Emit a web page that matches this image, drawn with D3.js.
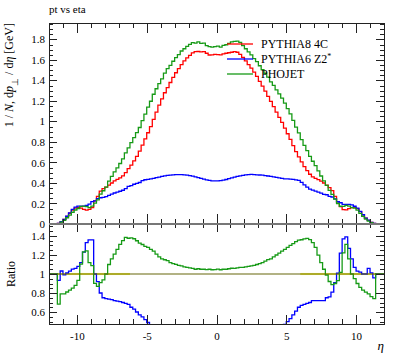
<!DOCTYPE html>
<html>
<head>
<meta charset="utf-8">
<script src="https://cdn.jsdelivr.net/npm/d3@7"></script>
<style>
  body { margin: 0; background: #fff; }
  svg { display: block; }
  text { font-family: "Liberation Serif", "Times New Roman", serif; fill: #000; }
</style>
</head>
<body>
<div id="chart"></div>
<script>
// bins of 0.2 in eta, from -12 to 12 (120 bins)
const binEdges = d3.range(121).map(i => +(-12 + i * 0.2).toFixed(1));

// PYTHIA8 4C (reference of the ratio)
const pythia8 = [
  0, 0, 0, 0.006, 0.022, 0.045, 0.075, 0.105, 0.135, 0.155,
  0.162, 0.155, 0.142, 0.136, 0.142, 0.160, 0.225, 0.270, 0.320, 0.345,
  0.360, 0.380, 0.400, 0.420, 0.435, 0.450, 0.470, 0.500, 0.540, 0.575,
  0.615, 0.660, 0.710, 0.770, 0.830, 0.890, 0.950, 1.020, 1.090, 1.160,
  1.220, 1.280, 1.330, 1.380, 1.430, 1.475, 1.515, 1.555, 1.590, 1.620,
  1.645, 1.668, 1.680, 1.682, 1.678, 1.680, 1.665, 1.648, 1.650, 1.655,
  1.652, 1.650, 1.658, 1.665, 1.670, 1.675, 1.680, 1.675, 1.655, 1.625,
  1.590, 1.555, 1.520, 1.480, 1.440, 1.390, 1.345, 1.295, 1.245, 1.195,
  1.145, 1.090, 1.040, 0.990, 0.935, 0.880, 0.825, 0.765, 0.705, 0.655,
  0.605, 0.560, 0.520, 0.485, 0.460, 0.445, 0.432, 0.418, 0.400, 0.380,
  0.355, 0.325, 0.270, 0.215, 0.170, 0.140, 0.138, 0.150, 0.160, 0.162,
  0.150, 0.120, 0.090, 0.058, 0.035, 0.016, 0.005, 0, 0, 0
];

// PYTHIA6 Z2*
const pythia6 = [
  0, 0, 0, 0.0056, 0.0227, 0.0446, 0.0758, 0.1082, 0.1418, 0.1643,
  0.1750, 0.1736, 0.1747, 0.1809, 0.1931, 0.2176, 0.2250, 0.2484, 0.2560, 0.2588,
  0.2664, 0.2793, 0.2920, 0.3024, 0.3110, 0.3195, 0.3290, 0.3450, 0.3672, 0.3738,
  0.3875, 0.3960, 0.4047, 0.4235, 0.4316, 0.436, 0.440, 0.445, 0.452, 0.458,
  0.465, 0.470, 0.474, 0.476, 0.479, 0.482, 0.482, 0.481, 0.479, 0.476,
  0.472, 0.466, 0.460, 0.453, 0.445, 0.437, 0.430, 0.425, 0.421, 0.420,
  0.420, 0.423, 0.428, 0.434, 0.442, 0.450, 0.458, 0.465, 0.470, 0.475,
  0.479, 0.481, 0.483, 0.482, 0.480, 0.478, 0.476, 0.472, 0.468, 0.464,
  0.460, 0.455, 0.450, 0.445, 0.440, 0.440, 0.437, 0.436, 0.430, 0.4258,
  0.4054, 0.3808, 0.3588, 0.3395, 0.3312, 0.3204, 0.3110, 0.3010, 0.2880, 0.2850,
  0.2698, 0.2633, 0.2457, 0.2172, 0.2074, 0.1918, 0.1918, 0.1905, 0.1856, 0.1733,
  0.1545, 0.1224, 0.0900, 0.0580, 0.0371, 0.0162, 0.0048, 0, 0, 0
];

// PHOJET
const phojet = [
  0, 0, 0, 0.0041, 0.0174, 0.0356, 0.0608, 0.0872, 0.1148, 0.1364,
  0.151, 0.171, 0.175, 0.169, 0.159, 0.174, 0.203, 0.235, 0.291, 0.324,
  0.360, 0.418, 0.464, 0.508, 0.548, 0.590, 0.635, 0.693, 0.743, 0.794,
  0.843, 0.891, 0.941, 1.009, 1.071, 1.139, 1.197, 1.265, 1.319, 1.369,
  1.415, 1.472, 1.516, 1.546, 1.587, 1.623, 1.651, 1.687, 1.709, 1.733,
  1.752, 1.768, 1.764, 1.775, 1.762, 1.764, 1.740, 1.730, 1.724, 1.730,
  1.735, 1.724, 1.741, 1.748, 1.762, 1.776, 1.781, 1.784, 1.771, 1.739,
  1.709, 1.679, 1.649, 1.613, 1.584, 1.543, 1.506, 1.470, 1.432, 1.386,
  1.351, 1.308, 1.269, 1.228, 1.178, 1.126, 1.073, 1.010, 0.945, 0.888,
  0.823, 0.767, 0.715, 0.660, 0.612, 0.570, 0.518, 0.468, 0.420, 0.376,
  0.327, 0.289, 0.243, 0.200, 0.173, 0.171, 0.181, 0.174, 0.160, 0.154,
  0.135, 0.103, 0.0747, 0.047, 0.0277, 0.0122, 0.0037, 0, 0, 0
];

const seriesNames = ["PYTHIA8 4C", "PYTHIA6 Z2*", "PHOJET"];
const seriesColors = ["#ff0000", "#0000ff", "#169a16"];

const xMajor = [-10, -5, 0, 5, 10];
const xMinor = d3.range(-12, 13, 1);
const yMajor = [0, 0.2, 0.4, 0.6, 0.8, 1, 1.2, 1.4, 1.6, 1.8];
const yMinor = d3.range(0, 1.96, 0.05);
const ratioMajor = [0.6, 0.8, 1, 1.2, 1.4];
const ratioMinor = d3.range(0.5, 1.51, 0.05);
// eta ranges where the yellow band of the reference shows
const refBand = [[-11.4, -6.2], [6.0, 11.4]];

const width = 397, height = 358;
const pLeft = 49, pRight = 384, pTop = 23, pMid = 224, pBottom = 324;

const svg = d3.select("#chart").append("svg")
  .attr("width", width).attr("height", height);

const x = d3.scaleLinear().domain([-12, 12]).range([pLeft, pRight]);
const y = d3.scaleLinear().domain([0, 1.96]).range([pMid, pTop]);
const yr = d3.scaleLinear().domain([0.474, 1.526]).range([pBottom, pMid]);

const defs = svg.append("defs");
defs.append("clipPath").attr("id", "clip-main")
  .append("rect").attr("x", pLeft).attr("y", pTop).attr("width", pRight - pLeft).attr("height", pMid - pTop);
defs.append("clipPath").attr("id", "clip-ratio")
  .append("rect").attr("x", pLeft).attr("y", pMid).attr("width", pRight - pLeft).attr("height", pBottom - pMid);

const stepPts = vals => {
  const pts = vals.map((v, i) => [binEdges[i], v]);
  pts.push([binEdges[vals.length], vals[vals.length - 1]]);
  return pts;
};

const lineMain = d3.line().x(d => x(d[0])).y(d => y(d[1])).curve(d3.curveStepAfter);
const lineRatio = d3.line().x(d => x(d[0])).y(d => yr(d[1])).curve(d3.curveStepAfter);

const allSeries = [pythia8, pythia6, phojet];

// main histograms
const gMain = svg.append("g").attr("clip-path", "url(#clip-main)");
allSeries.forEach((vals, k) => {
  gMain.append("path")
    .attr("d", lineMain(stepPts(vals)))
    .attr("fill", "none")
    .attr("stroke", seriesColors[k])
    .attr("stroke-width", 1.3);
});

// ratio panel
const gRatio = svg.append("g").attr("clip-path", "url(#clip-ratio)");
refBand.forEach(b => {
  gRatio.append("rect")
    .attr("x", x(b[0])).attr("width", x(b[1]) - x(b[0]))
    .attr("y", yr(1.011)).attr("height", yr(0.989) - yr(1.011))
    .attr("fill", "#f4f048");
});
[pythia6, phojet].forEach((vals, k) => {
  const ratio = vals.map((v, i) => pythia8[i] > 0 ? v / pythia8[i] : 1);
  gRatio.append("path")
    .attr("d", lineRatio(stepPts(ratio)))
    .attr("fill", "none")
    .attr("stroke", seriesColors[k + 1])
    .attr("stroke-width", 1.3);
});
gRatio.append("line")
  .attr("x1", pLeft).attr("x2", pRight)
  .attr("y1", yr(1)).attr("y2", yr(1))
  .attr("stroke", "#66660a").attr("stroke-width", 1.2);

// axes
const fmtX = d => d < 0 ? "-" + Math.abs(d) : String(d);
const fmtY = d3.format("~g");

const addAxis = (axis, tx, ty, withLabels) => {
  const g = svg.append("g").attr("transform", `translate(${tx},${ty})`).call(axis);
  g.select(".domain").remove();
  g.selectAll(".tick line").attr("stroke", "#222").attr("shape-rendering", "crispEdges");
  g.selectAll(".tick text").style("font-size", "11px").style("font-family", '"Liberation Serif", serif');
  if (!withLabels) g.selectAll(".tick text").remove();
  return g;
};

// main panel ticks
addAxis(d3.axisLeft(y).tickValues(yMajor).tickSize(-8).tickPadding(4).tickFormat(fmtY), pLeft, 0, true);
addAxis(d3.axisLeft(y).tickValues(yMinor).tickSize(-4).tickFormat(""), pLeft, 0, false);
addAxis(d3.axisRight(y).tickValues(yMajor).tickSize(-8).tickFormat(""), pRight, 0, false);
addAxis(d3.axisRight(y).tickValues(yMinor).tickSize(-4).tickFormat(""), pRight, 0, false);
addAxis(d3.axisTop(x).tickValues(xMajor).tickSize(-10).tickFormat(""), 0, pTop, false);
addAxis(d3.axisTop(x).tickValues(xMinor).tickSize(-5).tickFormat(""), 0, pTop, false);
addAxis(d3.axisBottom(x).tickValues(xMajor).tickSize(-10).tickFormat(""), 0, pMid, false);
addAxis(d3.axisBottom(x).tickValues(xMinor).tickSize(-5).tickFormat(""), 0, pMid, false);

// ratio panel ticks
addAxis(d3.axisLeft(yr).tickValues(ratioMajor).tickSize(-8).tickPadding(4).tickFormat(fmtY), pLeft, 0, true);
addAxis(d3.axisLeft(yr).tickValues(ratioMinor).tickSize(-4).tickFormat(""), pLeft, 0, false);
addAxis(d3.axisRight(yr).tickValues(ratioMajor).tickSize(-8).tickFormat(""), pRight, 0, false);
addAxis(d3.axisRight(yr).tickValues(ratioMinor).tickSize(-4).tickFormat(""), pRight, 0, false);
addAxis(d3.axisTop(x).tickValues(xMajor).tickSize(-8).tickFormat(""), 0, pMid, false);
addAxis(d3.axisTop(x).tickValues(xMinor).tickSize(-4).tickFormat(""), 0, pMid, false);
addAxis(d3.axisBottom(x).tickValues(xMajor).tickSize(-9).tickPadding(8).tickFormat(fmtX), 0, pBottom, true);
addAxis(d3.axisBottom(x).tickValues(xMinor).tickSize(-5).tickFormat(""), 0, pBottom, false);

// frames
svg.append("rect")
  .attr("x", pLeft).attr("y", pTop).attr("width", pRight - pLeft).attr("height", pBottom - pTop)
  .attr("fill", "none").attr("stroke", "#222").attr("shape-rendering", "crispEdges");
svg.append("line")
  .attr("x1", pLeft).attr("x2", pRight).attr("y1", pMid).attr("y2", pMid)
  .attr("stroke", "#777").attr("stroke-width", 2);

// title and axis labels
svg.append("text").attr("x", pLeft).attr("y", 13)
  .style("font-size", "11px").text("pt vs eta");

const yLab = svg.append("text")
  .attr("transform", `translate(13,${pTop}) rotate(-90)`)
  .attr("text-anchor", "end")
  .style("font-size", "12px");
yLab.append("tspan").text("1 / ");
yLab.append("tspan").style("font-style", "italic").text("N");
yLab.append("tspan").text(", d");
yLab.append("tspan").style("font-style", "italic").text("p");
yLab.append("tspan").attr("baseline-shift", "sub").style("font-size", "9px").text("⊥");
yLab.append("tspan").text(" / d");
yLab.append("tspan").style("font-style", "italic").text("η");
yLab.append("tspan").text(" [GeV]");

svg.append("text")
  .attr("transform", `translate(15,${yr(1)}) rotate(-90)`)
  .attr("text-anchor", "middle")
  .style("font-size", "12px")
  .text("Ratio");

svg.append("text").attr("x", pRight).attr("y", 350)
  .attr("text-anchor", "end")
  .style("font-size", "13px").style("font-style", "italic")
  .text("η");

// legend
const legend = svg.append("g").attr("transform", "translate(227,44)");
seriesNames.forEach((name, k) => {
  const row = legend.append("g").attr("transform", `translate(0,${k * 15})`);
  row.append("line").attr("x1", 0).attr("x2", 26)
    .attr("stroke", seriesColors[k]).attr("stroke-width", 1.3);
  const t = row.append("text").attr("x", 34).attr("y", 4).style("font-size", "12px");
  if (name.endsWith("*")) {
    t.append("tspan").text(name.slice(0, -1));
    t.append("tspan").attr("baseline-shift", "super").style("font-size", "8px").text("*");
  } else {
    t.text(name);
  }
});
</script>
</body>
</html>
